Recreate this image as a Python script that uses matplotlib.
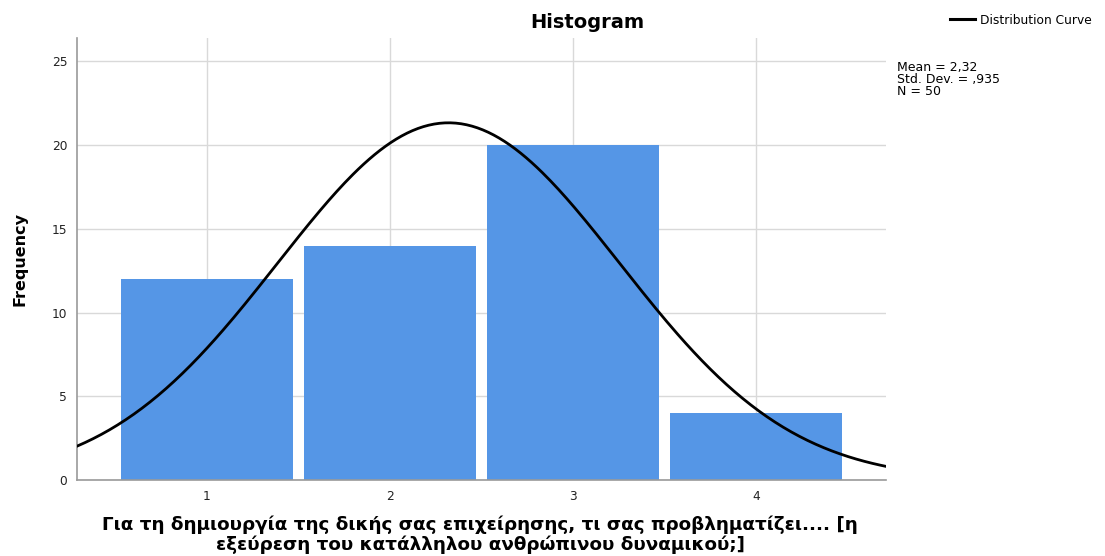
import numpy as np
import matplotlib.pyplot as plt
from matplotlib.lines import Line2D

plt.rcParams['font.family'] = ['DejaVu Sans']

# answer categories and their counts
categories = [1, 2, 3, 4]
counts = [12, 14, 20, 4]
mean = 2.32
std_dev = 0.935
n = 50

fig = plt.figure(figsize=(11.05, 5.56), dpi=100)
ax = fig.add_axes([0.0697, 0.1367, 0.7321, 0.795])

ax.set_axisbelow(True)
ax.bar(categories, counts, width=0.94, color='#5596e6', zorder=2)

# fitted normal curve scaled to the histogram (bin width 1)
xs = np.linspace(0.29, 4.71, 300)
ys = n / (std_dev * np.sqrt(2 * np.pi)) * np.exp(-0.5 * ((xs - mean) / std_dev) ** 2)
ax.plot(xs, ys, color='black', lw=2.0, zorder=3)

ax.set_xlim(0.29, 4.71)
ax.set_ylim(0, 26.4)
ax.set_xticks(categories)
ax.set_yticks([0, 5, 10, 15, 20, 25])
ax.grid(True, color='#d9d9d9', lw=1.0)
ax.tick_params(length=0, labelsize=8.8, colors='#222222')
ax.tick_params(axis='y', pad=7)
ax.tick_params(axis='x', pad=7)

for side in ['top', 'right']:
    ax.spines[side].set_visible(False)
for side in ['left', 'bottom']:
    ax.spines[side].set_color('#9a9a9a')
    ax.spines[side].set_linewidth(1.2)

ax.set_ylabel('Frequency', fontsize=11.5, fontweight='bold')
ax.yaxis.set_label_coords(-0.061, 0.5)

fig.text(587 / 1105, 1 - 22 / 556, 'Histogram', ha='center', va='center',
         fontsize=14, fontweight='bold')

fig.text(480 / 1105, 1 - 535 / 556,
         'Για τη δημιουργία της δικής σας επιχείρησης, τι σας προβληματίζει.... [η\n'
         'εξεύρεση του κατάλληλου ανθρώπινου δυναμικού;]',
         ha='center', va='center', fontsize=13.2, fontweight='bold', linespacing=1.08)

# legend and summary statistics on the right
fig.add_artist(Line2D([950 / 1105, 975 / 1105], [1 - 19 / 556, 1 - 19 / 556],
                      color='black', lw=2.2))
fig.text(980 / 1105, 1 - 20 / 556, 'Distribution Curve', ha='left', va='center', fontsize=8.8)
fig.text(897 / 1105, 1 - 61 / 556,
         'Mean = 2,32\nStd. Dev. = ,935\nN = 50',
         ha='left', va='top', fontsize=9, linespacing=0.88)

fig.savefig('out.png', dpi=100)
